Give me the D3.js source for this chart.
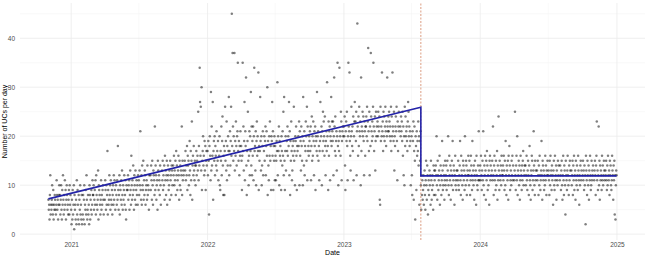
<!DOCTYPE html>
<html>
<head>
<meta charset="utf-8">
<script src="https://cdn.jsdelivr.net/npm/d3@7"></script>
<style>
  body { margin: 0; background: #fff; }
  svg { display: block; font-family: "Liberation Sans", Arial, sans-serif; }
</style>
</head>
<body>
<div id="chart"></div>
<script>
// daily counts, one string per month starting Nov 2020
// one char per day: 0-9, a=10 .. z=35, A=36 .. J=45
const firstMonth = '2020-11'
const dailyCounts = [
  '75638c4657a64936587546b857368a', // 2020-11
  '6847a5396c7485b6937a8564794a68', // 2020-12
  '5273946a1856372b49638275a46382', // 2021-01
  '4837a26594c7358462a8375946b83',
  '8a5796b4c8657d3a98647b5869a74',
  '7b95a68h4967c8a5b76948a6c7b95',
  'a86b7i958c4a97b6d85a79c68b53a9',
  '9c7ab58d96ga7b8e95ca7d69b8a6c',
  'b8dal97c6ea9f7b8dc69ab7e8a95c',
  'c9eb7fa6dcb8m9ec7ab5fd9cb8ea6',
  'dbf9cae7gbd8cf6bec9ad7fbc8eda',
  'ecgadbf8hce9bdgc7fae9dcm8fbdc',
  'fdhbeci9gefacjd8hbfn7egcidbfea',
  'ehcfgdpbieyrgqdu9fhkegcjdi9fhe',
  'hcjf4ikgbtdmegr7hjfkcigeldhfjb', // 2022-01
  'gka9hfmcjoe8gi8hqfjdnbiekhscj',
  'hlejqgJiBmfkhBdjgnieklzhfjcigl',
  'if9gzhmdjrbliwe8hjpfaglckhtemc',
  'jgmbkyhidlajngkhx9ifhsjdkaeilc',
  'hkfjmcilgu8jebkgnfi9kjrgl9ifkb',
  'igbfjhvckhmajgif9khelgpcsf9hkd',
  'jhmgkircl8jfnhbdigjqfhakjmg9ih',
  'kinalgjdmifkasjelcihnkfqbmhigk',
  'jlhmbiofkgnjclim9kjhtgklfibhjr',
  'kmalhpjnkgoicjlhvki9nglmbkjsin',
  'ljnckwmhogjldkziajhylkgpnbjlmk',
  'mkoe9lnjpibkzmlxjgdkqlimhobknr', // 2023-01
  'njpclHmgoiqlknawhmlpkojcnlgmt',
  'mokqjnClhpcmiBoljnkqzmhlodjpkm',
  'nkpmlo76qjmkxlnhpkojmqlinkwmlo',
  'lpnkmjqhokxmljpdkimolqjbnhmpl',
  'mkolnjpgmckaqioklmjhnrpkmilja',
  'kc8ljn7hmf3ki9lgjhnek6jfla5c8b7',
  '9c6ad85bfa7ec49b8dac6fb79ca5e8d',
  'bd8ecka7fc9bdg6aec8bjd9aec7bfa',
  'ce9bfdka8gcbe7dafcj9bed6cgab9d',
  'dbfa9cejb8gdca7febd9kcafe8bdcg',
  'cafd8bgec9jbdae7cfbd6gca9eblbd',
  'ebgc9dfbla8ecgd7fbhe9cad6fgbec', // 2024-01
  'dfbmc8egbd9fach7ebod9fcbeagdc',
  'cebgd9fajc8edbf7gcie9bdafcgbe',
  'bdpc9egbk8dcfae7bgdc9ebfhadce',
  'eacgb9dfc8eiba7dcgf9bdlea8fbd',
  'dbfc8eagc9bdjc7febd9cagbe8dcf',
  'cdb8fagcd9ebc6dfa9gbce7dbafce',
  'bec9dfa7cgb8eda4fcb9dgca8ebfd',
  'dacf8ebg9cd7fbaec9gdb6caefbd',
  'cfbd9eac2gdb8fcae7dbgc9afbdce',
  'bdfc8egnbd9cmaf7ebdc9gbeacfdb',
  'dcfb9eagcbd8fcea9bgdc7ebf4c3adc'  // 2024-12
]

// fitted segmented trend
const breakDate = '2023-07-26'
const trendDates = ['2020-11-01', '2023-07-26', '2023-07-26', '2024-12-31']
const trendValues = [7.2, 25.9, 11.9, 11.9]

const yTicks = [0, 10, 20, 30, 40]
const xTickYears = ['2021', '2022', '2023', '2024', '2025']

const width = 650
const height = 259
const margin = { top: 3, right: 5, bottom: 19, left: 20 }

const CODE = '0123456789abcdefghijklmnopqrstuvwxyzABCDEFGHIJ'
const parseDay = d3.timeParse('%Y-%m-%d')
const parseMonth = d3.timeParse('%Y-%m')
const start = parseMonth(firstMonth)

const points = dailyCounts.flatMap((s, m) => {
  const m0 = d3.timeMonth.offset(start, m)
  const m1 = d3.timeMonth.offset(m0, 1)
  return [...s]
    .map((ch, i) => ({ date: d3.timeDay.offset(m0, i), value: CODE.indexOf(ch) }))
    .filter((d) => d.date < m1)
})

const trend = trendDates.map((d, i) => ({ date: parseDay(d), value: trendValues[i] }))

// ggplot-like 5% expansion
const xExt = d3.extent(points, (d) => d.date)
const xPad = (xExt[1] - xExt[0]) * 0.05
const yExt = d3.extent(points, (d) => d.value)
const yPad = (yExt[1] - yExt[0]) * 0.05

const x = d3
  .scaleTime()
  .domain([new Date(+xExt[0] - xPad), new Date(+xExt[1] + xPad)])
  .range([margin.left, width - margin.right])
const y = d3
  .scaleLinear()
  .domain([yExt[0] - yPad, yExt[1] + yPad])
  .range([height - margin.bottom, margin.top])

const svg = d3
  .select('#chart')
  .append('svg')
  .attr('width', width)
  .attr('height', height)

const [x0, x1] = x.range()
const [y0, y1] = y.range()

// grid
const yMinor = d3.range(5, 50, 10).filter((v) => v < y.domain()[1])
const years = xTickYears.map((d) => d3.timeParse('%Y')(d))
const halfYears = d3.timeMonth
  .range(x.domain()[0], x.domain()[1])
  .filter((d) => d.getMonth() === 6)

const grid = svg.append('g')
grid
  .selectAll('.ymin')
  .data(yMinor)
  .join('line')
  .attr('x1', x0)
  .attr('x2', x1)
  .attr('y1', (d) => y(d))
  .attr('y2', (d) => y(d))
  .attr('stroke', '#f2f2f2')
  .attr('stroke-width', 0.5)
grid
  .selectAll('.xmin')
  .data(halfYears)
  .join('line')
  .attr('x1', (d) => x(d))
  .attr('x2', (d) => x(d))
  .attr('y1', y0)
  .attr('y2', y1)
  .attr('stroke', '#f2f2f2')
  .attr('stroke-width', 0.5)
grid
  .selectAll('.ymaj')
  .data(yTicks)
  .join('line')
  .attr('x1', x0)
  .attr('x2', x1)
  .attr('y1', (d) => y(d))
  .attr('y2', (d) => y(d))
  .attr('stroke', '#ebebeb')
  .attr('stroke-width', 0.8)
grid
  .selectAll('.xmaj')
  .data(years)
  .join('line')
  .attr('x1', (d) => x(d))
  .attr('x2', (d) => x(d))
  .attr('y1', y0)
  .attr('y2', y1)
  .attr('stroke', '#ebebeb')
  .attr('stroke-width', 0.8)

// points
svg
  .append('g')
  .selectAll('circle')
  .data(points)
  .join('circle')
  .attr('cx', (d) => x(d.date))
  .attr('cy', (d) => y(d.value))
  .attr('r', 1.25)
  .attr('fill', '#000')
  .attr('fill-opacity', 0.5)

// break line
svg
  .append('line')
  .attr('x1', x(parseDay(breakDate)))
  .attr('x2', x(parseDay(breakDate)))
  .attr('y1', y0)
  .attr('y2', y1)
  .attr('stroke', '#c8643c')
  .attr('stroke-opacity', 0.8)
  .attr('stroke-width', 0.8)
  .attr('stroke-dasharray', '2,1.5')

// trend
svg
  .append('path')
  .datum(trend)
  .attr('fill', 'none')
  .attr('stroke', '#2323a8')
  .attr('stroke-width', 1.6)
  .attr('d', d3.line().x((d) => x(d.date)).y((d) => y(d.value)))

// axes
const xAxis = d3
  .axisBottom(x)
  .tickValues(years)
  .tickFormat(d3.timeFormat('%Y'))
  .tickSize(0)
  .tickPadding(2)
const yAxis = d3.axisLeft(y).tickValues(yTicks).tickSize(0).tickPadding(4)

svg
  .append('g')
  .attr('transform', `translate(0,${y0})`)
  .call(xAxis)
  .call((g) => g.select('.domain').remove())
  .selectAll('text')
  .attr('fill', '#4d4d4d')
  .style('font-size', '6.5px')

svg
  .append('g')
  .attr('transform', `translate(${x0 - 1},0)`)
  .call(yAxis)
  .call((g) => g.select('.domain').remove())
  .selectAll('text')
  .attr('fill', '#4d4d4d')
  .style('font-size', '6.5px')

svg
  .append('text')
  .attr('x', (x0 + x1) / 2)
  .attr('y', 255)
  .attr('text-anchor', 'middle')
  .style('font-size', '7px')
  .text('Date')

svg
  .append('text')
  .attr('transform', `translate(7,${(y0 + y1) / 2}) rotate(-90)`)
  .attr('text-anchor', 'middle')
  .style('font-size', '7px')
  .text('Number of UCs per day')
</script>
</body>
</html>
